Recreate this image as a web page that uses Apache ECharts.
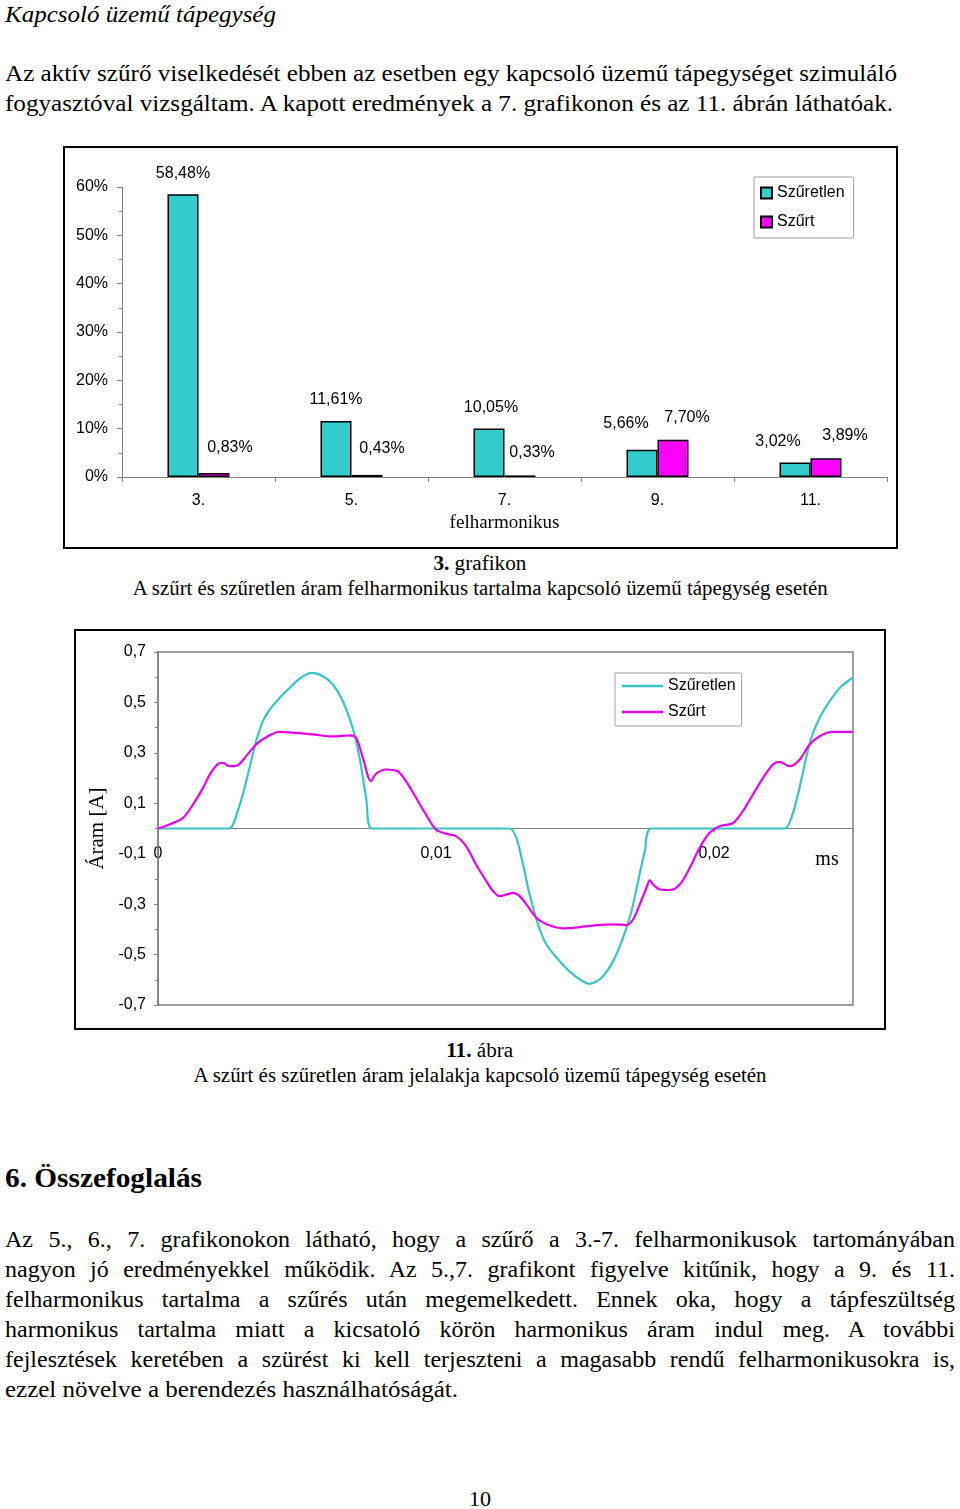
<!DOCTYPE html>
<html><head><meta charset="utf-8">
<script src="https://cdn.jsdelivr.net/npm/echarts@6/dist/echarts.min.js"></script>
<style>
html,body{margin:0;padding:0;background:#fff;}
body{width:960px;height:1509px;position:relative;overflow:hidden;font-family:"Liberation Serif","Times New Roman",serif;color:#000;}
.ln{position:absolute;white-space:nowrap;}
.box{position:absolute;border:2px solid #000;box-sizing:border-box;}
.ch{position:absolute;}
</style></head>
<body>
<div class="box" style="left:63px;top:146px;width:835px;height:403px;"></div>
<div class="box" style="left:74px;top:629px;width:812px;height:401px;"></div>
<div id="c1" class="ch" style="left:63px;top:146px;width:835px;height:403px;"></div>
<div id="c2" class="ch" style="left:74px;top:629px;width:812px;height:401px;"></div>
<div id="txt"></div>
<script>
// ---------- data ----------
const harmonics = ['3.', '5.', '7.', '9.', '11.'];
const unfilteredPct = [58.48, 11.61, 10.05, 5.66, 3.02];
const filteredPct = [0.83, 0.43, 0.33, 7.70, 3.89];
const seriesNames = ['Szűretlen', 'Szűrt'];
const pctTicks = [0, 10, 20, 30, 40, 50, 60];

// waveform [time (s), current (A)]
const unfilteredWave = [
 [0,0],[0.00255,0],[0.0027,0.016],[0.00287,0.07],[0.00305,0.135],[0.00329,0.24],[0.00353,0.346],
 [0.00377,0.425],[0.00401,0.47],[0.00437,0.518],[0.00473,0.557],[0.00509,0.594],[0.00553,0.617],
 [0.00593,0.604],[0.00629,0.571],[0.00665,0.505],[0.007,0.40],[0.00725,0.28],[0.00749,0.12],[0.0077,0],
 [0.01265,0],[0.01289,-0.037],[0.01313,-0.143],[0.01337,-0.262],[0.01367,-0.38],[0.01397,-0.46],
 [0.01445,-0.526],[0.01493,-0.579],[0.01553,-0.616],[0.01595,-0.592],[0.01637,-0.526],[0.01673,-0.433],
 [0.01703,-0.328],[0.01727,-0.209],[0.01751,-0.09],[0.01775,0],[0.02254,0],[0.02278,0.042],
 [0.02302,0.135],[0.02326,0.254],[0.0235,0.359],[0.0238,0.439],[0.02416,0.505],[0.02458,0.564],
 [0.02494,0.594],[0.025,0.598]
];
const filteredWave = [
 [0,0],[0.00042,0.016],[0.0009,0.042],[0.00126,0.095],[0.00162,0.161],[0.00186,0.214],[0.00216,0.256],
 [0.00234,0.26],[0.00257,0.247],[0.00287,0.251],[0.00317,0.287],[0.00353,0.333],[0.00389,0.362],
 [0.00437,0.383],[0.00497,0.379],[0.00557,0.373],[0.00629,0.365],[0.00689,0.369],[0.00713,0.359],
 [0.00737,0.28],[0.00766,0.188],[0.00784,0.217],[0.0082,0.234],[0.00862,0.227],[0.00892,0.188],
 [0.00928,0.122],[0.00964,0.055],[0.01,-0.004],[0.01036,-0.021],[0.01072,-0.03],[0.01108,-0.07],
 [0.01144,-0.143],[0.01181,-0.209],[0.01205,-0.248],[0.01229,-0.268],[0.01253,-0.262],[0.01277,-0.255],
 [0.01301,-0.268],[0.01325,-0.301],[0.01361,-0.354],[0.01397,-0.38],[0.01457,-0.396],[0.01517,-0.391],
 [0.01577,-0.383],[0.01637,-0.38],[0.01685,-0.383],[0.01709,-0.361],[0.01733,-0.301],[0.01757,-0.235],
 [0.01769,-0.206],[0.01781,-0.222],[0.01805,-0.242],[0.01841,-0.244],[0.01877,-0.222],[0.01913,-0.156],
 [0.01948,-0.077],[0.01984,-0.017],[0.0202,0.009],[0.02068,0.022],[0.02104,0.069],[0.0214,0.135],
 [0.02176,0.2],[0.02212,0.254],[0.02236,0.264],[0.02272,0.247],[0.02308,0.273],[0.02344,0.333],
 [0.0238,0.366],[0.02428,0.383],[0.025,0.383]
];
const currentTicks = [-0.7, -0.5, -0.3, -0.1, 0.1, 0.3, 0.5, 0.7];
const timeTicks = [0, 0.01, 0.02];

// ---------- styling ----------
const SANS = '"Liberation Sans", Arial, sans-serif';
const SERIF = '"Liberation Serif", "Times New Roman", serif';
const TEAL = '#33CCCC', MAG = '#FF00FF';
const LTEAL = '#3CC4C4', LMAG = '#E800E8';
const tealShift = [[0,-8],[0,-8],[2,-8],[-16,-13],[-17,-8]];
const magShift = [[16,-12],[15,-13],[12,-10],[14,-9],[19,-10]];
const pctFmt = v => v.toFixed(2).replace('.', ',') + '%';

const c1 = echarts.init(document.getElementById('c1'), null, {renderer:'canvas'});
c1.setOption({
  animation:false,
  grid:{left:59, right:11, top:41, bottom:72, containLabel:false, outerBoundsMode:'none'},
  legend:{
    data:seriesNames, orient:'vertical', left:691, top:31, icon:'rect',
    itemWidth:11, itemHeight:11, itemGap:13, padding:[8,9,8,6],
    borderColor:'#a0a0a0', borderWidth:1,
    textStyle:{fontFamily:SANS, fontSize:16, color:'#000'}
  },
  xAxis:{
    type:'category', data:harmonics,
    axisLine:{lineStyle:{color:'#808080', width:1}},
    axisTick:{show:true, length:5, lineStyle:{color:'#808080'}},
    axisLabel:{fontFamily:SANS, fontSize:16, color:'#000', margin:16},
    name:'felharmonikus', nameLocation:'middle', nameGap:36,
    nameTextStyle:{fontFamily:SERIF, fontSize:19, color:'#000'}
  },
  yAxis:{
    type:'value', min:pctTicks[0], max:pctTicks[pctTicks.length-1], interval:10,
    axisLine:{show:true, lineStyle:{color:'#808080', width:1}},
    axisTick:{show:true, length:5, lineStyle:{color:'#808080'}},
    minorTick:{show:true, splitNumber:2, length:3, lineStyle:{color:'#808080'}},
    splitLine:{show:false},
    axisLabel:{fontFamily:SANS, fontSize:16, color:'#000', margin:14, formatter:v=>v+'%'}
  },
  series:[
    {name:seriesNames[0], type:'bar', barWidth:31, barGap:'0%',
     itemStyle:{color:TEAL, borderColor:'#000', borderWidth:1.5},
     label:{show:true, position:'top', distance:5, fontFamily:SANS, fontSize:16, color:'#000', formatter:p=>pctFmt(p.value)},
     data:unfilteredPct.map((v,i)=>({value:v, label:{offset:tealShift[i]}}))},
    {name:seriesNames[1], type:'bar', barWidth:31, barGap:'0%',
     itemStyle:{color:MAG, borderColor:'#000', borderWidth:1.5},
     label:{show:true, position:'top', distance:5, fontFamily:SANS, fontSize:16, color:'#000', formatter:p=>pctFmt(p.value)},
     data:filteredPct.map((v,i)=>({value:v, label:{offset:magShift[i]}}))}
  ]
});

const c2 = echarts.init(document.getElementById('c2'), null, {renderer:'canvas'});
c2.setOption({
  animation:false,
  grid:{left:84, right:33, top:23, bottom:25, show:true, borderColor:'#808080', borderWidth:1.5,
        containLabel:false, outerBoundsMode:'none'},
  legend:{
    data:seriesNames, orient:'vertical', left:541, top:44,
    icon:'rect', itemWidth:41, itemHeight:2.5, itemGap:10, padding:[5,6,6,7],
    borderColor:'#a0a0a0', borderWidth:1,
    textStyle:{fontFamily:SANS, fontSize:16, color:'#000', lineHeight:16}
  },
  xAxis:{
    type:'value', min:0, max:0.025, interval:0.01,
    axisLine:{onZero:true, lineStyle:{color:'#808080', width:1}},
    axisTick:{show:true, length:4, lineStyle:{color:'#808080'}},
    splitLine:{show:false},
    axisLabel:{show:false}
  },
  yAxis:{
    type:'value', min:currentTicks[0], max:currentTicks[currentTicks.length-1], interval:0.2,
    axisLine:{show:true, onZero:false, lineStyle:{color:'#808080', width:1.5}},
    axisTick:{show:true, length:4, lineStyle:{color:'#808080'}},
    minorTick:{show:true, splitNumber:2, length:3, lineStyle:{color:'#808080'}},
    splitLine:{show:false},
    axisLabel:{fontFamily:SANS, fontSize:16, color:'#000', margin:12,
      formatter:v=>v.toFixed(1).replace('.', ',')},
    name:'Áram [A]', nameLocation:'middle', nameGap:45, nameRotate:90,
    nameTextStyle:{fontFamily:SERIF, fontSize:21, color:'#000'}
  },
  series:[
    {name:seriesNames[0], type:'line', data:unfilteredWave, symbol:'none', showSymbol:false, smooth:0.3,
     lineStyle:{color:LTEAL, width:2.2}, itemStyle:{color:LTEAL}},
    {name:seriesNames[1], type:'line', data:filteredWave, symbol:'none', showSymbol:false, smooth:0.3,
     lineStyle:{color:LMAG, width:2.2}, itemStyle:{color:LMAG}}
  ]
});
// time-axis labels drawn next to the zero line (position from the library's own scale)
c2.setOption({
  graphic: timeTicks.map(t => {
    const p = c2.convertToPixel({gridIndex:0}, [t, 0]);
    return {type:'text', x:p[0], y:p[1] + 25, silent:true,
      style:{text: t === 0 ? '0' : String(t).replace('.', ','), font:'16px ' + SANS, fill:'#000',
             align:'center', verticalAlign:'middle'}};
  })
});

// ---------- document text ----------
const T = document.getElementById('txt');
function addLine(html, o){
  const d = document.createElement('div');
  d.className = 'ln';
  d.innerHTML = html;
  d.style.fontSize = o.size + 'px';
  d.style.lineHeight = o.size + 'px';
  d.style.fontFamily = o.family || SERIF;
  if (o.italic) d.style.fontStyle = 'italic';
  if (o.bold) d.style.fontWeight = 'bold';
  d.style.top = (o.y - o.size/2) + 'px';
  T.appendChild(d);
  if (o.justify){
    d.style.left = o.x + 'px';
    d.style.width = o.w + 'px';
    d.style.whiteSpace = 'normal';
    d.style.textAlign = 'justify';
    d.style.textAlignLast = 'justify';
    return d;
  }
  const w = d.getBoundingClientRect().width;
  const s = o.w ? o.w / w : 1;
  if (o.center){
    d.style.left = (o.x - w/2) + 'px';
    d.style.transformOrigin = '50% 50%';
  } else {
    d.style.left = o.x + 'px';
    d.style.transformOrigin = '0 50%';
  }
  d.style.transform = 'scaleX(' + s + ')';
  return d;
}
addLine('Kapcsoló üzemű tápegység', {x:5, y:14, size:23, w:271, italic:true});
addLine('Az aktív szűrő viselkedését ebben az esetben egy kapcsoló üzemű tápegységet szimuláló', {x:5, y:73, size:24, w:892});
addLine('fogyasztóval vizsgáltam. A kapott eredmények a 7. grafikonon és az 11. ábrán láthatóak.', {x:5, y:103, size:24, w:888});
addLine('<b>3.</b> grafikon', {x:480, y:563, size:20, w:93, center:true});
addLine('A szűrt és szűretlen áram felharmonikus tartalma kapcsoló üzemű tápegység esetén', {x:480, y:588, size:20, w:695, center:true});
addLine('<b>11.</b> ábra', {x:480, y:1050, size:20, w:67, center:true});
addLine('A szűrt és szűretlen áram jelalakja kapcsoló üzemű tápegység esetén', {x:480, y:1075, size:20, w:573, center:true});
addLine('6. Összefoglalás', {x:5, y:1178, size:28, w:197, bold:true});
const para = [
 'Az 5., 6., 7. grafikonokon látható, hogy a szűrő a 3.-7. felharmonikusok tartományában',
 'nagyon jó eredményekkel működik. Az 5.,7. grafikont figyelve kitűnik, hogy a 9. és 11.',
 'felharmonikus tartalma a szűrés után megemelkedett. Ennek oka, hogy a tápfeszültség',
 'harmonikus tartalma miatt a kicsatoló körön harmonikus áram indul meg. A további',
 'fejlesztések keretében a szürést ki kell terjeszteni a magasabb rendű felharmonikusokra is,'
];
para.forEach((t,i)=>addLine(t, {x:5, y:1239 + 30*i, size:24, w:950, justify:true}));
addLine('ezzel növelve a berendezés használhatóságát.', {x:5, y:1389, size:24, w:453});
addLine('ms', {x:827, y:858, size:20, center:true});
addLine('10', {x:480, y:1499, size:22, center:true});
</script>
</body></html>
